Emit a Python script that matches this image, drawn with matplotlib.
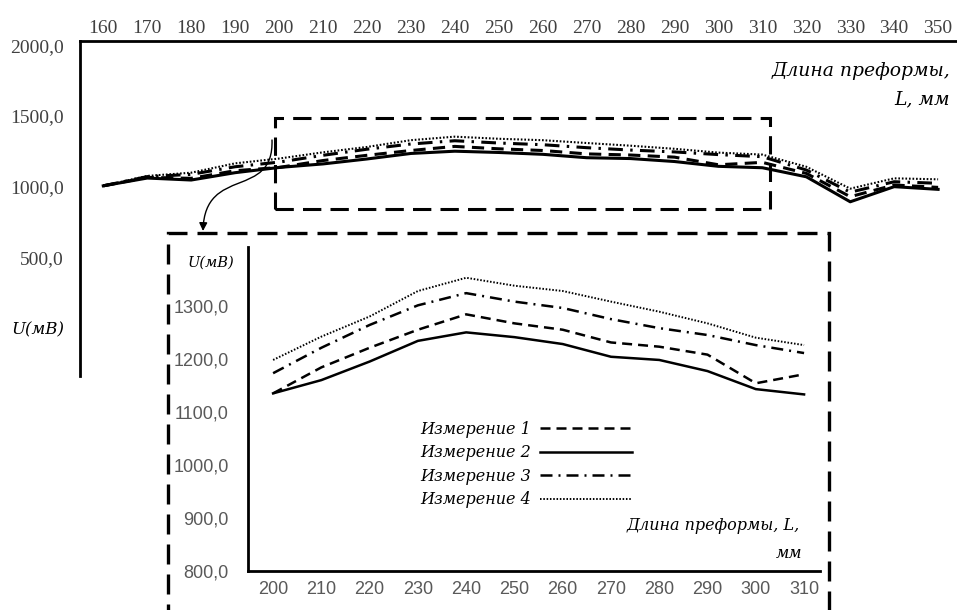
import matplotlib
matplotlib.use('Agg')
import matplotlib.pyplot as plt
from matplotlib.patches import Rectangle, FancyArrowPatch
from matplotlib.path import Path

# preform length, mm
length_mm = [160, 170, 180, 190, 200, 210, 220, 230, 240, 250,
             260, 270, 280, 290, 300, 310, 320, 330, 340, 350]

# U, mV for four measurements
meas1 = [1005, 1065, 1058, 1112, 1135, 1184, 1221, 1255, 1284, 1267,
         1255, 1231, 1223, 1208, 1154, 1171, 1093, 928, 1011, 994]
meas2 = [1005, 1060, 1046, 1098, 1135, 1160, 1195, 1234, 1250, 1241,
         1228, 1204, 1198, 1177, 1143, 1133, 1069, 892, 999, 980]
meas3 = [1005, 1070, 1086, 1140, 1173, 1221, 1264, 1301, 1324, 1308,
         1296, 1275, 1258, 1245, 1226, 1211, 1117, 960, 1034, 1023]
meas4 = [1005, 1075, 1098, 1164, 1198, 1242, 1280, 1328, 1353, 1338,
         1328, 1308, 1289, 1267, 1240, 1226, 1140, 985, 1058, 1051]

series_labels = ['Измерение 1', 'Измерение 2', 'Измерение 3', 'Измерение 4']

main_xticks = list(range(160, 351, 10))
main_yticks = [0, 500, 1000, 1500, 2000]
inset_xticks = list(range(200, 311, 10))
inset_yticks = [800, 900, 1000, 1100, 1200, 1300]
zoom_from, zoom_to = 200, 310

W, H = 957, 610


def fx(px):
    return px / W


def fy(py):
    return 1 - py / H


def comma(v):
    return f'{v:.1f}'.replace('.', ',')


serif = 'Liberation Serif'
serif_it = 'DejaVu Serif'
sans = 'Liberation Sans'
styles = ['dashed', 'solid', 'dashdot', 'dotted']
dashes = {'dashed': (0, (4, 2.4)),
          'solid': '-',
          'dashdot': (0, (4.8, 2.4, 0.8, 2.4)),
          'dotted': (0, (0.8, 0.9))}

fig = plt.figure(figsize=(9.57, 6.10), dpi=100)

# ---- main chart
ax = fig.add_axes([fx(80), fy(376), fx(957) - fx(80), fy(41) - fy(376)])
all_series = [meas1, meas2, meas3, meas4]
for vals, st in zip(all_series, styles):
    lw = 1.5 if st == 'dotted' else 2.2
    ax.plot(length_mm, vals, color='black', lw=lw, linestyle=dashes[st])

ax.set_xlim(154.7, 354.3)
ax.set_ylim(-341, 2030)
ax.xaxis.tick_top()
ax.set_xticks(main_xticks)
ax.set_xticklabels([str(t) for t in main_xticks], fontfamily=serif,
                   fontsize=14, color='#404040')
ax.set_yticks(main_yticks)
ax.set_yticklabels(['U(мВ)'] + [comma(t) for t in main_yticks[1:]],
                   fontfamily=serif, fontsize=14, color='#404040')
lab0 = ax.get_yticklabels()[0]
lab0.set_fontstyle('italic')
lab0.set_fontfamily(serif_it)
lab0.set_fontsize(12)
lab0.set_color('black')
ax.tick_params(axis='both', length=0)
ax.tick_params(axis='x', pad=3)
ax.tick_params(axis='y', pad=11.5)
for s in ['right', 'bottom']:
    ax.spines[s].set_visible(False)
for s in ['top', 'left']:
    ax.spines[s].set_linewidth(2)
ax.text(fx(950), fy(71), 'Длина преформы,', transform=fig.transFigure,
        ha='right', va='center', fontfamily=serif_it, style='italic', fontsize=13.5)
ax.text(fx(950), fy(99), 'L, мм', transform=fig.transFigure,
        ha='right', va='center', fontfamily=serif_it, style='italic', fontsize=13.5)

# zoom frame on main chart
fig.patches.append(Rectangle((fx(275), fy(209)), fx(770) - fx(275), fy(118) - fy(209),
                             transform=fig.transFigure, fill=False, lw=2.2,
                             linestyle=(0, (6, 3)), edgecolor='black'))
# inset frame
fig.patches.append(Rectangle((fx(168), fy(660)), fx(829) - fx(168), fy(233) - fy(660),
                             transform=fig.transFigure, fill=False, lw=2.4,
                             linestyle=(0, (6, 3)), edgecolor='black'))

# curved arrow
verts = [(fx(272), fy(140)), (fx(274), fy(200)), (fx(205), fy(165)), (fx(203), fy(231))]
codes = [Path.MOVETO, Path.CURVE4, Path.CURVE4, Path.CURVE4]
arrow = FancyArrowPatch(path=Path(verts, codes), arrowstyle='-|>', mutation_scale=12,
                        lw=1.0, color='black', transform=fig.transFigure)
fig.patches.append(arrow)

# ---- inset
axi = fig.add_axes([fx(248), fy(571), fx(820) - fx(248), fy(247) - fy(571)])
sel = [i for i, v in enumerate(length_mm) if zoom_from <= v <= zoom_to]
xs = [length_mm[i] for i in sel]
handles = []
for vals, st, lab in zip(all_series, styles, series_labels):
    lw = 1.4 if st == 'dotted' else 1.8
    ln, = axi.plot(xs, [vals[i] for i in sel], color='black', lw=lw,
                   linestyle=dashes[st], label=lab)
    handles.append(ln)

axi.set_xlim(194.8, 313.3)
axi.set_ylim(800, 1411)
axi.set_xticks(inset_xticks)
axi.set_xticklabels([str(t) for t in inset_xticks], fontfamily=sans,
                    fontsize=13, color='#595959')
axi.set_yticks(inset_yticks)
axi.set_yticklabels([comma(t) for t in inset_yticks], fontfamily=sans,
                    fontsize=13, color='#595959')
axi.tick_params(axis='both', length=0)
axi.tick_params(axis='x', pad=7)
axi.tick_params(axis='y', pad=14)
for s in ['right', 'top']:
    axi.spines[s].set_visible(False)
for s in ['left', 'bottom']:
    axi.spines[s].set_linewidth(2)

fig.text(fx(211), fy(263), 'U(мВ)', ha='center', va='center',
         fontfamily=serif_it, style='italic', fontsize=10.5)
fig.text(fx(800), fy(525), 'Длина преформы, L,', ha='right', va='center',
         fontfamily=serif_it, style='italic', fontsize=11.5)
fig.text(fx(802), fy(553), 'мм', ha='right', va='center',
         fontfamily=serif_it, style='italic', fontsize=11.5)

axi.legend(handles=handles, markerfirst=False, frameon=False, loc='upper right',
           bbox_to_anchor=(fx(632), fy(421)), bbox_transform=fig.transFigure,
           prop={'family': serif_it, 'style': 'italic', 'size': 11.5},
           handlelength=5.75, handletextpad=0.6, labelspacing=0.4,
           borderpad=0, borderaxespad=0)

fig.savefig('out.png', dpi=100)
